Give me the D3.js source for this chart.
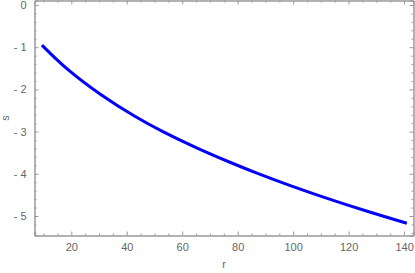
<!DOCTYPE html>
<html>
<head>
<meta charset="utf-8">
<script src="https://cdn.jsdelivr.net/npm/d3@7"></script>
<style>
  body { margin: 0; background: white; }
  svg { display: block; }
  .tick text { font-family: "Liberation Sans", Arial, sans-serif; font-size: 11px; fill: #666; }
</style>
</head>
<body>
<div id="container"></div>
<script>
// values
var rVals = [9.4, 18.6, 30.6, 42.6, 53.2, 65.2, 77.2, 87.4, 99.5, 111.5, 120, 132, 141];
var sVals = [-0.95, -1.52, -2.12, -2.624, -3.006, -3.384, -3.726, -3.996, -4.292, -4.566, -4.749, -4.995, -5.172];
var xTicks = [20, 40, 60, 80, 100, 120, 140];
var yTicks = [0, -1, -2, -3, -4, -5];

var width = 415, height = 273;
// note: "top" is taken by window.top, so frame edges get their own names
var frameL = 34.5, frameR = 413.5, frameT = 0.5, frameB = 235.5;

var svg = d3.select("#container").append("svg")
    .attr("width", width)
    .attr("height", height);

var x = d3.scaleLinear().domain([6.73, 143.4]).range([frameL, frameR]);
var y = d3.scaleLinear().domain([0.107, -5.462]).range([frameT, frameB]);

var minorX = d3.range(10, 145, 5).filter(function(d){ return d % 20 != 0; });
var minorY = d3.range(0, -5.5, -0.2).map(function(d){ return +d.toFixed(1); })
    .filter(function(d){ return Math.abs(d - Math.round(d)) > 0.01; });

function fmtY(d) { return d < 0 ? "- " + Math.abs(d) : String(d); }

// frame axes, ticks pointing inward
function drawAxis(axis, tx, ty) {
  var g = svg.append("g").attr("transform", "translate(" + tx + "," + ty + ")").call(axis);
  g.select(".domain").attr("stroke", "#999");
  g.selectAll(".tick line").attr("stroke", "#999");
  return g;
}

drawAxis(d3.axisBottom(x).tickValues(xTicks).tickSize(-4).tickPadding(8), 0, frameB);
drawAxis(d3.axisBottom(x).tickValues(minorX).tickSize(-2).tickFormat(""), 0, frameB);
drawAxis(d3.axisTop(x).tickValues(xTicks).tickSize(-4).tickFormat(""), 0, frameT);
drawAxis(d3.axisTop(x).tickValues(minorX).tickSize(-2).tickFormat(""), 0, frameT);

drawAxis(d3.axisLeft(y).tickValues(yTicks).tickSize(-4).tickPadding(8).tickFormat(fmtY), frameL, 0);
drawAxis(d3.axisLeft(y).tickValues(minorY).tickSize(-2).tickFormat(""), frameL, 0);
drawAxis(d3.axisRight(y).tickValues(yTicks).tickSize(-4).tickFormat(""), frameR, 0);
drawAxis(d3.axisRight(y).tickValues(minorY).tickSize(-2).tickFormat(""), frameR, 0);

var pts = rVals.map(function(r, i){ return [r, sVals[i]]; });

svg.append("path")
    .datum(pts)
    .attr("fill", "none")
    .attr("stroke", "#0000ff")
    .attr("stroke-width", 3)
    .attr("d", d3.line()
        .x(function(d){ return x(d[0]); })
        .y(function(d){ return y(d[1]); })
        .curve(d3.curveNatural));

svg.append("text")
    .attr("x", 224)
    .attr("y", 268)
    .attr("text-anchor", "middle")
    .style("font-family", "Liberation Sans, Arial, sans-serif")
    .style("font-size", "11px")
    .style("fill", "#666")
    .text("r");

svg.append("text")
    .attr("transform", "translate(9,118) rotate(-90)")
    .attr("text-anchor", "middle")
    .style("font-family", "Liberation Sans, Arial, sans-serif")
    .style("font-size", "11px")
    .style("fill", "#666")
    .text("s");
</script>
</body>
</html>
